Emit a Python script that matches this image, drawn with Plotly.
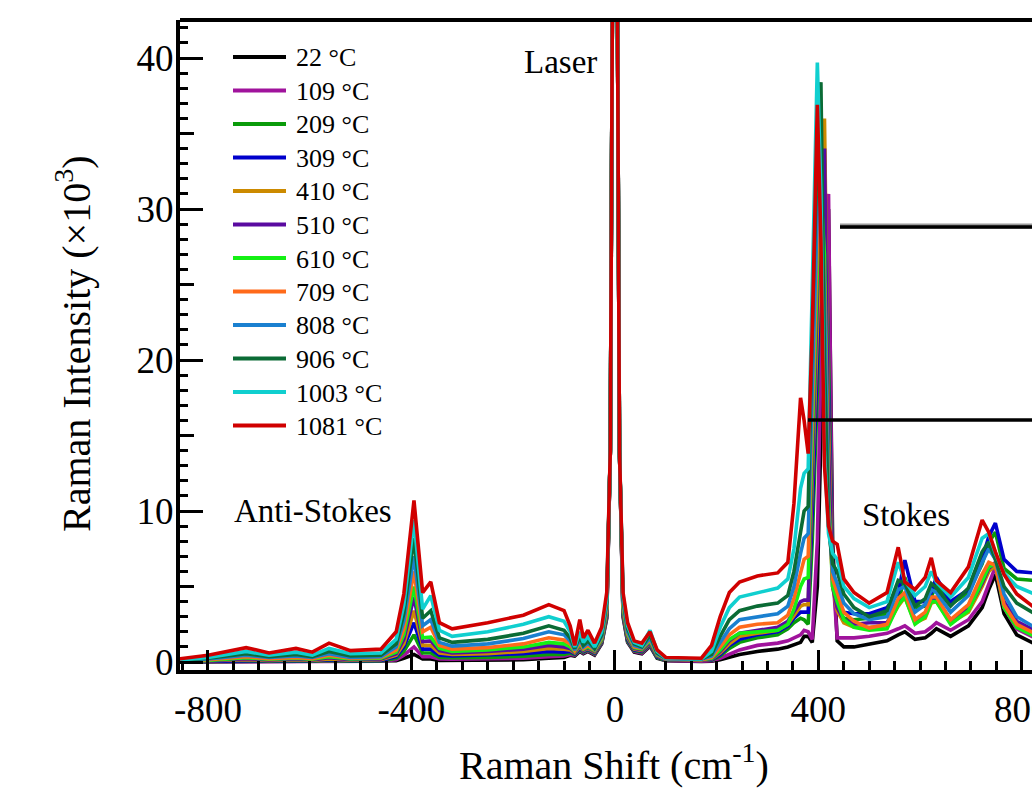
import plotly.graph_objects as go

# ---------------- data ----------------
shift = [-870, -800, -725, -680, -627, -595, -562, -520, -460, -430,
         -415, -395, -378, -362, -345, -320, -250, -180, -130, -100,
         -88, -79, -69, -62, -53, -40, -26, -16, -9, 0,
         9, 16, 25, 38, 53, 69, 83, 100, 170, 190,
         207, 225, 245, 280, 320, 340, 352, 365, 372, 380,
         388, 398, 405, 412, 420, 428, 437, 450, 470, 500,
         535, 557, 570, 590, 610, 622, 632, 660, 695, 722,
         735, 748, 765, 790, 825]

labels = ["22 °C", "109 °C", "209 °C", "309 °C", "410 °C", "510 °C",
          "610 °C", "709 °C", "808 °C", "906 °C", "1003 °C", "1081 °C"]

x_tickvals = [-800, -400, 0, 400, 800]
x_ticktext = ["-800", "-400", "0", "400", "800"]

t22 = [0.0, 0.01, 0.02, 0.01, 0.02, 0.01, 0.03, 0.02, 0.02, 0.08,
       0.25, 0.5, 0.2, 0.2, 0.1, 0.1, 0.12, 0.15, 0.25, 0.3,
       0.45, 0.4, 0.7, 0.55, 0.7, 0.45, 1.2, 2.9, 14, 80,
       14, 3.0, 1.3, 0.65, 0.55, 1.05, 0.25, 0.08, 0.03, 0.05,
       0.15, 0.3, 0.5, 0.7, 0.85, 1.0, 1.15, 1.3, 1.7, 1.7,
       1.3, 5, 15, 25, 30, 8, 1.4, 1.0, 1.0, 1.2,
       1.4, 1.8, 2.0, 1.5, 1.6, 1.9, 2.2, 1.7, 2.4, 3.6,
       4.8, 5.8, 3.2, 1.8, 1.2]
t109 = [0.01, 0.02, 0.05, 0.03, 0.05, 0.03, 0.06, 0.04, 0.05, 0.15,
        0.45, 1.0, 0.35, 0.35, 0.2, 0.18, 0.2, 0.25, 0.35, 0.4,
        0.5, 0.45, 0.75, 0.6, 0.75, 0.5, 1.25, 3.0, 14, 80,
        14, 3.1, 1.35, 0.7, 0.6, 1.1, 0.3, 0.1, 0.05, 0.08,
        0.25, 0.5, 0.8, 1.1, 1.25, 1.4, 1.6, 1.8, 2.1, 2.0,
        1.5, 8, 20, 29, 31, 6, 1.6, 1.6, 1.6, 1.7,
        1.9, 2.2, 2.4, 1.9, 2.0, 2.3, 2.6, 2.1, 2.8, 4.0,
        5.2, 6.3, 3.6, 2.2, 1.6]
t209 = [0.01, 0.03, 0.08, 0.05, 0.07, 0.05, 0.1, 0.06, 0.07, 0.25,
        0.7, 1.8, 0.6, 0.6, 0.3, 0.28, 0.3, 0.38, 0.5, 0.5,
        0.6, 0.5, 0.8, 0.65, 0.8, 0.55, 1.3, 3.1, 14, 80,
        14, 3.2, 1.4, 0.75, 0.65, 1.15, 0.3, 0.12, 0.08, 0.12,
        0.4, 0.9, 1.3, 1.6, 1.8, 2.2, 2.6, 2.9, 2.8, 2.5,
        8, 18, 27, 33, 20, 5.5, 3.6, 2.9, 2.8, 2.9,
        3.2, 4.0, 5.6, 3.6, 3.7, 4.3, 5.2, 3.8, 4.6, 6.5,
        7.9, 8.6, 6.2, 5.5, 5.4]
t309 = [0.02, 0.05, 0.12, 0.08, 0.11, 0.08, 0.15, 0.09, 0.11, 0.35,
        1.0, 2.6, 0.85, 0.85, 0.45, 0.4, 0.45, 0.55, 0.7, 0.65,
        0.7, 0.55, 0.9, 0.7, 0.85, 0.6, 1.35, 3.2, 14, 80,
        14, 3.3, 1.5, 0.8, 0.7, 1.2, 0.35, 0.15, 0.1, 0.15,
        0.5, 1.1, 1.5, 1.8, 2.0, 2.4, 2.9, 3.3, 3.3, 3.3,
        10, 20, 28, 34, 18, 5.5, 4.0, 3.3, 3.2, 3.2,
        3.6, 4.6, 6.75, 4.0, 4.0, 4.6, 5.6, 4.0, 4.8, 6.8,
        8.3, 9.2, 6.8, 6.0, 5.9]
t410 = [0.02, 0.06, 0.16, 0.1, 0.15, 0.1, 0.2, 0.12, 0.15, 0.45,
        1.2, 3.4, 1.1, 1.1, 0.6, 0.5, 0.55, 0.7, 0.9, 0.85,
        0.8, 0.6, 1.0, 0.75, 0.9, 0.65, 1.4, 3.3, 14, 80,
        14, 3.4, 1.6, 0.85, 0.75, 1.25, 0.4, 0.17, 0.1, 0.18,
        0.6, 1.2, 1.7, 1.9, 2.1, 2.5, 3.1, 3.7, 3.8, 3.8,
        12, 22, 30, 36, 16, 5.0, 3.4, 2.6, 2.3, 2.3,
        2.4, 3.7, 4.3, 2.6, 2.9, 3.9, 4.0, 2.6, 3.3, 5.0,
        6.0, 6.4, 3.9, 2.6, 2.0]
t510 = [0.03, 0.08, 0.22, 0.14, 0.2, 0.14, 0.28, 0.16, 0.2, 0.55,
        1.5, 4.3, 1.35, 1.4, 0.75, 0.6, 0.7, 0.85, 1.1, 1.0,
        0.9, 0.65, 1.1, 0.8, 0.95, 0.7, 1.45, 3.4, 14, 80,
        14, 3.5, 1.7, 0.9, 0.8, 1.3, 0.4, 0.18, 0.12, 0.2,
        0.7, 1.4, 1.9, 2.1, 2.3, 2.7, 3.3, 4.0, 4.1, 4.1,
        13, 24, 32, 34, 14, 5.0, 3.6, 2.8, 2.5, 2.6,
        2.6, 4.0, 4.5, 2.8, 3.1, 4.1, 4.2, 2.8, 3.5, 5.2,
        6.2, 6.6, 4.0, 2.7, 2.1]
t610 = [0.04, 0.1, 0.28, 0.18, 0.25, 0.18, 0.35, 0.2, 0.25, 0.65,
        1.8, 5.0, 1.6, 1.65, 0.9, 0.7, 0.8, 1.0, 1.3, 1.2,
        1.0, 0.7, 1.2, 0.85, 1.0, 0.75, 1.5, 3.5, 14, 80,
        14, 3.6, 1.8, 0.95, 0.85, 1.4, 0.45, 0.2, 0.15, 0.25,
        0.8, 1.5, 1.9, 2.0, 2.1, 2.5, 3.5, 5.0, 5.5, 5.6,
        15, 26, 31, 27, 11, 5.0, 4.0, 2.8, 2.3, 2.1,
        2.2, 3.8, 4.3, 2.5, 3.0, 4.0, 4.0, 2.5, 3.4, 5.3,
        6.3, 6.5, 3.6, 2.3, 1.7]
t709 = [0.05, 0.15, 0.35, 0.22, 0.3, 0.22, 0.45, 0.25, 0.3, 0.8,
        2.2, 6.0, 2.0, 2.3, 1.1, 0.85, 0.95, 1.2, 1.6, 1.45,
        1.2, 0.75, 1.3, 0.9, 1.1, 0.8, 1.6, 3.6, 14, 80,
        14, 3.8, 1.9, 1.0, 0.9, 1.5, 0.5, 0.2, 0.15, 0.3,
        1.0, 1.8, 2.3, 2.5, 2.6, 3.1, 4.2, 6.0, 6.8, 7.0,
        17, 28, 30.5, 25, 10, 5.5, 4.6, 3.3, 2.7, 2.25,
        2.5, 4.2, 4.6, 2.8, 3.3, 4.3, 4.3, 2.8, 3.8, 5.8,
        6.6, 6.4, 3.8, 2.5, 1.9]
t808 = [0.06, 0.2, 0.45, 0.3, 0.4, 0.3, 0.55, 0.3, 0.35, 1.0,
        2.7, 7.0, 2.4, 2.8, 1.3, 1.05, 1.2, 1.55, 2.0, 1.8,
        1.4, 0.8, 1.5, 1.0, 1.25, 0.85, 1.7, 3.8, 14, 80,
        14, 4.0, 2.0, 1.1, 0.95, 1.6, 0.55, 0.22, 0.18, 0.4,
        1.3, 2.2, 2.8, 3.0, 3.2, 3.7, 5.0, 7.2, 8.2, 8.5,
        19, 30, 32, 24, 9.5, 6.0, 5.2, 3.9, 3.2, 2.8,
        3.0, 4.8, 5.0, 3.3, 3.8, 4.8, 4.6, 3.3, 4.4, 6.6,
        7.5, 6.8, 4.5, 3.0, 2.3]
t906 = [0.08, 0.25, 0.55, 0.35, 0.5, 0.35, 0.7, 0.4, 0.45, 1.2,
        3.2, 8.2, 2.9, 3.4, 1.6, 1.3, 1.5, 1.9, 2.4, 2.1,
        1.6, 0.9, 1.7, 1.1, 1.4, 0.9, 1.8, 4.0, 14, 80,
        14, 4.2, 2.2, 1.2, 1.0, 1.8, 0.6, 0.25, 0.2, 0.5,
        1.7, 2.8, 3.4, 3.7, 3.9, 4.4, 6.0, 8.8, 10.0, 10.3,
        22, 34, 38.4, 20, 9, 6.5, 6.0, 4.5, 3.6, 3.0,
        3.4, 5.4, 5.2, 3.7, 4.2, 5.2, 4.9, 3.7, 4.9, 7.3,
        7.95, 6.8, 5.0, 3.9, 3.2]
t1003 = [0.1, 0.3, 0.7, 0.45, 0.65, 0.45, 0.9, 0.55, 0.6, 1.5,
         3.8, 9.4, 3.5, 4.4, 2.1, 1.7, 2.0, 2.5, 3.0, 2.7,
         2.0, 1.0, 2.0, 1.3, 1.7, 1.0, 2.0, 4.2, 14, 80,
         14, 4.4, 2.4, 1.3, 1.1, 2.1, 0.7, 0.25, 0.2, 0.7,
         2.3, 3.6, 4.3, 4.6, 4.9, 5.5, 7.5, 11.5, 12.5, 12.8,
         25, 39.7, 31, 14, 8.5, 7.2, 6.8, 5.0, 4.2, 3.6,
         4.0, 6.6, 5.4, 4.4, 5.0, 6.0, 5.3, 4.3, 5.6, 8.2,
         8.5, 7.2, 5.9, 5.0, 4.5]
t1081 = [0.15, 0.45, 0.95, 0.6, 0.9, 0.65, 1.25, 0.75, 0.85, 2.0,
         4.5, 10.7, 4.6, 5.3, 2.6, 2.2, 2.6, 3.1, 3.8, 3.4,
         2.4, 1.1, 2.8, 1.6, 2.1, 1.25, 2.3, 4.6, 14, 80,
         14, 4.6, 2.6, 1.4, 1.25, 2.0, 0.8, 0.3, 0.25, 1.1,
         3.0, 4.6, 5.3, 5.7, 5.9, 6.6, 10.5, 17.5, 16.0, 13.8,
         22, 36.9, 28, 13, 9.0, 8.0, 7.8, 5.5, 4.6, 3.9,
         4.6, 7.6, 5.3, 4.8, 5.6, 6.9, 5.4, 4.6, 6.3, 9.4,
         8.6, 7.3, 5.8, 4.5, 3.6]

series = [t22, t109, t209, t309, t410, t510, t610, t709, t808, t906, t1003, t1081]
colors = ["#000000", "#A0139C", "#0A9B0A", "#0000CC", "#CC8A00", "#5A0AA0",
          "#14F014", "#FF6A1A", "#1A80D0", "#0B6B35", "#10CFCF", "#D00000"]

for s in series:
    assert len(s) == len(shift), len(s)

# ---------------- layout geometry ----------------
W, H = 1032, 792
L, R, T, B = 180, 0, 20, 122
PW, PH = W - L - R, H - T - B


def fx(px):
    return (px - L) / PW


def fy(py):
    return (H - B - py) / PH


FONT = "Liberation Serif, Times New Roman, serif"
XR = [-855, 820]
YR = [-0.53, 42.52]

fig = go.Figure()
for s, c, lab in zip(series, colors, labels):
    fig.add_trace(go.Scatter(x=shift, y=s, mode="lines", name=lab,
                             line=dict(color=c, width=3.6), showlegend=False))
# helper trace for the medium y ticks axis
fig.add_trace(go.Scatter(x=[None], y=[None], yaxis="y2", showlegend=False,
                         hoverinfo="skip"))

shapes = []
annotations = []
# manual legend
for i, (c, lab) in enumerate(zip(colors, labels)):
    yy = 57 + 33.5 * i
    shapes.append(dict(type="line", xref="paper", yref="paper",
                       x0=fx(233), x1=fx(286), y0=fy(yy), y1=fy(yy),
                       line=dict(color=c, width=4)))
    annotations.append(dict(text=lab, xref="paper", yref="paper",
                            x=fx(294), y=fy(yy + 1), xanchor="left", yanchor="middle",
                            showarrow=False, font=dict(family=FONT, size=26, color="black")))

# top frame line
shapes.append(dict(type="line", xref="paper", yref="paper", x0=0, x1=1, y0=1, y1=1,
                   line=dict(color="black", width=4)))
# connector lines to the (cropped) insets
shapes.append(dict(type="line", xref="paper", yref="paper", x0=fx(840), x1=1.0,
                   y0=fy(226), y1=fy(226), line=dict(color="#9a9a9a", width=5)))
shapes.append(dict(type="line", xref="paper", yref="paper", x0=fx(840), x1=1.0,
                   y0=fy(227), y1=fy(227), line=dict(color="black", width=3.5)))
shapes.append(dict(type="line", xref="paper", yref="paper", x0=fx(808), x1=1.0,
                   y0=fy(420), y1=fy(420), line=dict(color="black", width=3.5)))


def ann(text, px, py, size):
    annotations.append(dict(text=text, xref="paper", yref="paper", x=fx(px), y=fy(py),
                            xanchor="center", yanchor="middle", showarrow=False,
                            font=dict(family=FONT, size=size, color="black")))


ann("Laser", 560, 62, 33)
ann("Anti-Stokes", 313, 511, 33)
ann("Stokes", 906, 515, 33)
# axis titles
ann("Raman Shift (cm<sup>-1</sup>)", 614, 762, 40)
annotations.append(dict(text="Raman Intensity (×10<sup>3</sup>)", xref="paper", yref="paper",
                        x=fx(73), y=fy(343), xanchor="center", yanchor="middle",
                        textangle=-90, showarrow=False,
                        font=dict(family=FONT, size=40, color="black")))

fig.update_layout(
    width=W, height=H,
    margin=dict(l=L, r=R, t=T, b=B, pad=0, autoexpand=False),
    paper_bgcolor="white", plot_bgcolor="white",
    font=dict(family=FONT, color="black"),
    shapes=shapes, annotations=annotations,
    xaxis=dict(range=XR, showgrid=False, zeroline=False, automargin=False,
               showline=True, linewidth=4, linecolor="black",
               ticks="inside", tickvals=x_tickvals, ticktext=x_ticktext,
               ticklen=20, tickwidth=3, tickcolor="black",
               ticklabelstandoff=4, ticklabeloverflow="allow",
               tickfont=dict(family=FONT, size=37, color="black"),
               minor=dict(ticks="inside", dtick=50, tick0=0, ticklen=9, tickwidth=3,
                          tickcolor="black", showgrid=False)),
    yaxis=dict(range=YR, showgrid=False, zeroline=False, automargin=False,
               showline=True, linewidth=4, linecolor="black",
               ticks="inside", tick0=0, dtick=10, ticklen=23, tickwidth=3, tickcolor="black",
               ticklabelstandoff=-5, ticklabeloverflow="allow",
               tickfont=dict(family=FONT, size=37, color="black"),
               minor=dict(ticks="inside", dtick=1, tick0=0, ticklen=8, tickwidth=3,
                          tickcolor="black", showgrid=False)),
    yaxis2=dict(range=YR, overlaying="y", side="left", anchor="x", showgrid=False,
                automargin=False,
                zeroline=False, showline=False, showticklabels=False,
                ticks="inside", tick0=0, dtick=5, ticklen=14, tickwidth=3, tickcolor="black"),
)

fig.write_html("out.html")
